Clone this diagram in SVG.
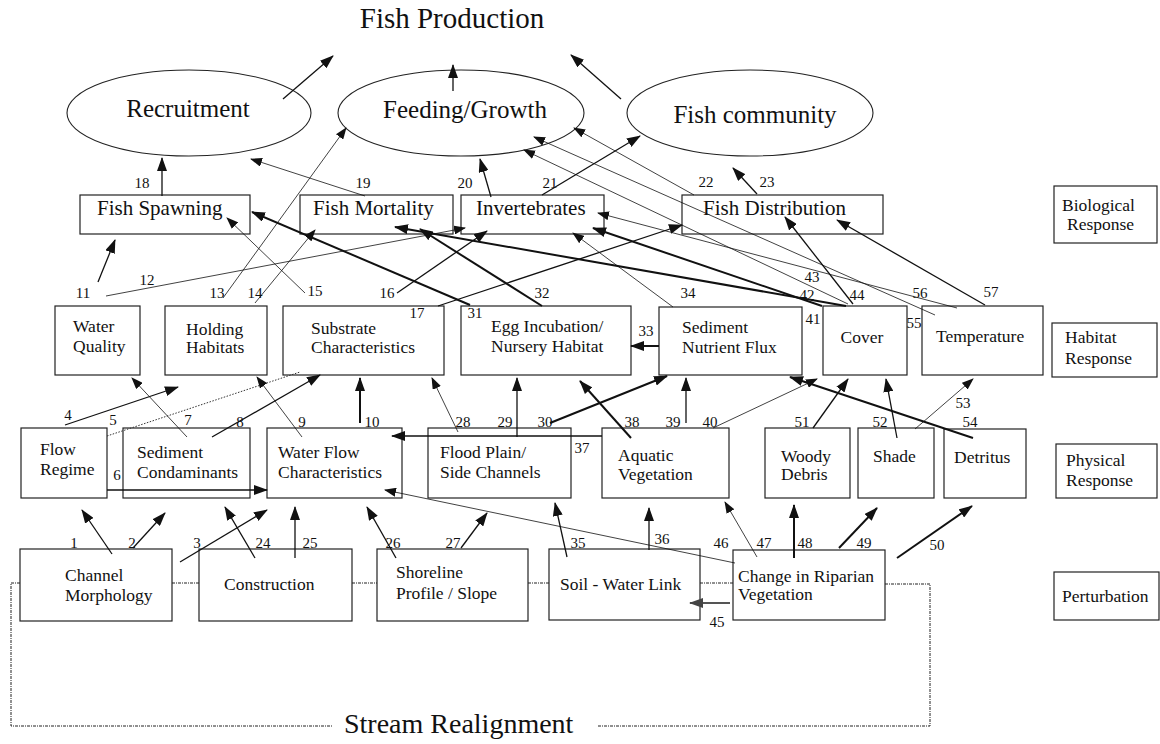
<svg xmlns="http://www.w3.org/2000/svg" width="1160" height="744" viewBox="0 0 1160 744">
  <style>
    text { font-family: "Liberation Serif", "Times New Roman", serif; fill: #111; }
    .box { fill: #fff; stroke: #222; stroke-width: 1.2; }
    .oval { fill: #fff; stroke: #222; stroke-width: 1.1; }
    .bio { font-size: 21px; }
    .lbl { font-size: 17.5px; }
    .oval-t { font-size: 25px; text-anchor: middle; }
    .num { font-size: 15px; text-anchor: middle; }
    .t { stroke: #111; stroke-width: 0.8; fill: none; marker-end: url(#hs); }
    .m { stroke: #111; stroke-width: 1.3; fill: none; marker-end: url(#h); }
    .k { stroke: #111; stroke-width: 2; fill: none; marker-end: url(#h); }
    .g { stroke: #555; stroke-width: 2.2; fill: none; marker-end: url(#hg); }
    .dot { stroke: #222; stroke-width: 1; fill: none; stroke-dasharray: 3 1 1 1; }
    .dot2 { stroke: #333; stroke-width: 1; fill: none; stroke-dasharray: 1.5 1.5; }
  </style>
  <defs>
    <marker id="h" markerUnits="userSpaceOnUse" markerWidth="14" markerHeight="10" refX="13" refY="5" orient="auto">
      <path d="M0,0 L14,5 L0,10 z" fill="#111"/>
    </marker>
    <marker id="hs" markerUnits="userSpaceOnUse" markerWidth="12" markerHeight="9" refX="11" refY="4.5" orient="auto">
      <path d="M0,0 L12,4.5 L0,9 z" fill="#111"/>
    </marker>
    <marker id="hg" markerUnits="userSpaceOnUse" markerWidth="14" markerHeight="10" refX="13" refY="5" orient="auto">
      <path d="M0,0 L14,5 L0,10 z" fill="#444"/>
    </marker>
  </defs>
  <rect width="1160" height="744" fill="#fff"/>

  <!-- outcome -->
  <g id="fish-production"><text x="452" y="28" font-size="29" text-anchor="middle">Fish Production</text></g>
  <g id="recruitment"><ellipse class="oval" cx="189" cy="113" rx="122" ry="43"/><text class="oval-t" x="188" y="117">Recruitment</text></g>
  <g id="feeding-growth"><ellipse class="oval" cx="461" cy="113" rx="123" ry="43"/><text class="oval-t" x="465" y="118">Feeding/Growth</text></g>
  <g id="fish-community"><ellipse class="oval" cx="750" cy="113" rx="123" ry="43"/><text class="oval-t" x="755" y="123">Fish community</text></g>

  <!-- biological response -->
  <g id="fish-spawning"><rect class="box" x="80" y="195" width="170" height="39"/><text class="bio" x="97" y="215">Fish Spawning</text></g>
  <g id="fish-mortality"><rect class="box" x="300" y="195" width="153" height="39"/><text class="bio" x="313" y="215">Fish Mortality</text></g>
  <g id="invertebrates"><rect class="box" x="461" y="195" width="143" height="39"/><text class="bio" x="476" y="215">Invertebrates</text></g>
  <g id="fish-distribution"><rect class="box" x="682" y="195" width="201" height="39"/><text class="bio" x="703" y="215">Fish Distribution</text></g>
  <g id="biological-response"><rect class="box" x="1054" y="186" width="103" height="57"/><text class="lbl" x="1062" y="211">Biological</text><text class="lbl" x="1067" y="230">Response</text></g>

  <!-- habitat response -->
  <g id="water-quality"><rect class="box" x="55" y="306" width="85" height="69"/><text class="lbl" x="73" y="332">Water</text><text class="lbl" x="73" y="352">Quality</text></g>
  <g id="holding-habitats"><rect class="box" x="165" y="306" width="102" height="69"/><text class="lbl" x="186" y="335">Holding</text><text class="lbl" x="186" y="353">Habitats</text></g>
  <g id="substrate"><rect class="box" x="283" y="306" width="161" height="69"/><text class="lbl" x="311" y="334">Substrate</text><text class="lbl" x="311" y="353">Characteristics</text></g>
  <g id="egg-incubation"><rect class="box" x="461" y="306" width="170" height="69"/><text class="lbl" x="491" y="332">Egg Incubation/</text><text class="lbl" x="491" y="352">Nursery Habitat</text></g>
  <g id="sediment-nutrient-flux"><rect class="box" x="659" y="307" width="143" height="68"/><text class="lbl" x="682" y="333">Sediment</text><text class="lbl" x="682" y="353">Nutrient Flux</text></g>
  <g id="cover"><rect class="box" x="823" y="306" width="84" height="69"/><text class="lbl" x="862" y="343" text-anchor="middle">Cover</text></g>
  <g id="temperature"><rect class="box" x="922" y="306" width="121" height="69"/><text class="lbl" x="936" y="342">Temperature</text></g>
  <g id="habitat-response"><rect class="box" x="1052" y="323" width="105" height="54"/><text class="lbl" x="1065" y="343">Habitat</text><text class="lbl" x="1065" y="364">Response</text></g>

  <!-- physical response -->
  <g id="flow-regime"><rect class="box" x="21" y="428" width="86" height="70"/><text class="lbl" x="40" y="455">Flow</text><text class="lbl" x="40" y="475">Regime</text></g>
  <g id="sediment-contaminants"><rect class="box" x="123" y="428" width="127" height="70"/><text class="lbl" x="137" y="458">Sediment</text><text class="lbl" x="137" y="478">Condaminants</text></g>
  <g id="water-flow"><rect class="box" x="267" y="428" width="135" height="70"/><text class="lbl" x="278" y="458">Water Flow</text><text class="lbl" x="278" y="478">Characteristics</text></g>
  <g id="flood-plain"><rect class="box" x="428" y="428" width="143" height="70"/><text class="lbl" x="440" y="458">Flood Plain/</text><text class="lbl" x="440" y="478">Side Channels</text></g>
  <g id="aquatic-vegetation"><rect class="box" x="602" y="428" width="127" height="70"/><text class="lbl" x="618" y="461">Aquatic</text><text class="lbl" x="618" y="480">Vegetation</text></g>
  <g id="woody-debris"><rect class="box" x="765" y="428" width="85" height="70"/><text class="lbl" x="781" y="462">Woody</text><text class="lbl" x="781" y="480">Debris</text></g>
  <g id="shade"><rect class="box" x="858" y="428" width="76" height="70"/><text class="lbl" x="873" y="462">Shade</text></g>
  <g id="detritus"><rect class="box" x="944" y="429" width="82" height="69"/><text class="lbl" x="954" y="463">Detritus</text></g>
  <g id="physical-response"><rect class="box" x="1056" y="444" width="101" height="54"/><text class="lbl" x="1066" y="466">Physical</text><text class="lbl" x="1066" y="486">Response</text></g>

  <!-- perturbation -->
  <g id="channel-morphology"><rect class="box" x="20" y="549" width="152" height="72"/><text class="lbl" x="65" y="581">Channel</text><text class="lbl" x="65" y="601">Morphology</text></g>
  <g id="construction"><rect class="box" x="199" y="549" width="153" height="72"/><text class="lbl" x="224" y="590">Construction</text></g>
  <g id="shoreline"><rect class="box" x="377" y="549" width="151" height="72"/><text class="lbl" x="396" y="578">Shoreline</text><text class="lbl" x="396" y="599">Profile / Slope</text></g>
  <g id="soil-water-link"><rect class="box" x="549" y="549" width="151" height="71"/><text class="lbl" x="560" y="590">Soil - Water Link</text></g>
  <g id="riparian-change"><rect class="box" x="733" y="550" width="152" height="70"/><text class="lbl" x="738" y="582">Change in Riparian</text><text class="lbl" x="738" y="600">Vegetation</text></g>
  <g id="perturbation"><rect class="box" x="1054" y="572" width="105" height="48"/><text class="lbl" x="1062" y="602">Perturbation</text></g>
  <g id="stream-realignment"><text x="344" y="733" font-size="28">Stream Realignment</text></g>

  <g id="connectors">
    <!-- dotted links between perturbations and the realignment loop -->
    <path class="dot" d="M172,583 H199 M352,583 H377 M528,583 H549 M700,583 H733"/>
    <path class="dot" d="M20,583 H11 V726 H333 M598,726 H930 V584 H885"/>
    <line class="dot2" x1="107" y1="436" x2="300" y2="372"/>

    <!-- into fish production -->
    <line class="m" x1="283" y1="99" x2="333" y2="56"/>
    <line class="m" x1="453" y1="91" x2="453" y2="65"/>
    <line class="m" x1="621" y1="99" x2="571" y2="55"/>

    <!-- biological to outcomes -->
    <line class="m" x1="162" y1="196" x2="162" y2="158"/>
    <line class="t" x1="365" y1="196" x2="251" y2="159"/>
    <line class="m" x1="491" y1="197" x2="480" y2="159"/>
    <line class="m" x1="542" y1="195" x2="640" y2="136"/>
    <line class="t" x1="694" y1="195" x2="574" y2="128"/>
    <line class="m" x1="757" y1="194" x2="733" y2="168"/>

    <!-- habitat to biological / outcomes -->
    <line class="m" x1="98" y1="282" x2="115" y2="240"/>
    <line class="t" x1="106" y1="296" x2="465" y2="228"/>
    <line class="t" x1="223" y1="298" x2="346" y2="128"/>
    <line class="t" x1="255" y1="303" x2="315" y2="230"/>
    <line class="t" x1="305" y1="293" x2="227" y2="218"/>
    <line class="m" x1="397" y1="293" x2="487" y2="231"/>
    <line class="m" x1="438" y1="306" x2="682" y2="225"/>
    <line class="k" x1="470" y1="305" x2="252" y2="212"/>
    <line class="k" x1="542" y1="306" x2="420" y2="229"/>
    <line class="k" x1="659" y1="346" x2="631" y2="346"/>
    <line class="t" x1="673" y1="307" x2="573" y2="233"/>
    <line class="k" x1="822" y1="306" x2="593" y2="228"/>
    <line class="k" x1="846" y1="306" x2="395" y2="227"/>
    <line class="t" x1="848" y1="304" x2="524" y2="150"/>
    <line class="m" x1="853" y1="304" x2="785" y2="217"/>
    <line class="t" x1="935" y1="315" x2="534" y2="137"/>
    <line class="t" x1="957" y1="308" x2="598" y2="213"/>
    <line class="m" x1="985" y1="305" x2="837" y2="220"/>

    <!-- physical to habitat -->
    <line class="m" x1="65" y1="425" x2="178" y2="387"/>
    <line class="m" x1="107" y1="490" x2="267" y2="490"/>
    <line class="t" x1="187" y1="437" x2="132" y2="378"/>
    <line class="m" x1="212" y1="437" x2="320" y2="375"/>
    <line class="t" x1="302" y1="437" x2="257" y2="377"/>
    <line class="k" x1="360" y1="423" x2="360" y2="378"/>
    <line class="t" x1="458" y1="432" x2="432" y2="378"/>
    <line class="m" x1="517" y1="437" x2="517" y2="378"/>
    <line class="k" x1="550" y1="423" x2="667" y2="376"/>
    <line class="m" x1="602" y1="436" x2="392" y2="436"/>
    <line class="k" x1="631" y1="438" x2="580" y2="381"/>
    <line class="m" x1="686" y1="423" x2="686" y2="378"/>
    <line class="t" x1="713" y1="428" x2="817" y2="379"/>
    <line class="m" x1="813" y1="428" x2="848" y2="379"/>
    <line class="m" x1="897" y1="438" x2="886" y2="379"/>
    <line class="t" x1="915" y1="429" x2="973" y2="379"/>
    <line class="k" x1="973" y1="438" x2="790" y2="377"/>

    <!-- perturbation to physical -->
    <line class="m" x1="112" y1="554" x2="82" y2="510"/>
    <line class="m" x1="133" y1="548" x2="165" y2="513"/>
    <line class="m" x1="180" y1="562" x2="267" y2="510"/>
    <line class="m" x1="255" y1="558" x2="225" y2="507"/>
    <line class="m" x1="295" y1="558" x2="295" y2="507"/>
    <line class="m" x1="396" y1="558" x2="367" y2="507"/>
    <line class="m" x1="461" y1="548" x2="487" y2="513"/>
    <line class="m" x1="567" y1="557" x2="555" y2="503"/>
    <line class="m" x1="649" y1="550" x2="649" y2="508"/>
    <line class="t" x1="735" y1="563" x2="385" y2="490"/>
    <line class="t" x1="757" y1="557" x2="725" y2="502"/>
    <line class="k" x1="794" y1="558" x2="794" y2="505"/>
    <line class="k" x1="839" y1="548" x2="877" y2="508"/>
    <line class="k" x1="897" y1="558" x2="972" y2="506"/>
    <line class="g" x1="730" y1="603" x2="690" y2="603"/>
  </g>

  <g id="link-numbers">
    <text class="num" x="142" y="188">18</text>
    <text class="num" x="363" y="188">19</text>
    <text class="num" x="465" y="188">20</text>
    <text class="num" x="550" y="188">21</text>
    <text class="num" x="706" y="187">22</text>
    <text class="num" x="767" y="187">23</text>
    <text class="num" x="83" y="298">11</text>
    <text class="num" x="147" y="285">12</text>
    <text class="num" x="217" y="298">13</text>
    <text class="num" x="255" y="298">14</text>
    <text class="num" x="315" y="296">15</text>
    <text class="num" x="387" y="298">16</text>
    <text class="num" x="417" y="318">17</text>
    <text class="num" x="475" y="318">31</text>
    <text class="num" x="542" y="298">32</text>
    <text class="num" x="646" y="336">33</text>
    <text class="num" x="688" y="298">34</text>
    <text class="num" x="813" y="324">41</text>
    <text class="num" x="807" y="300">42</text>
    <text class="num" x="812" y="282">43</text>
    <text class="num" x="857" y="300">44</text>
    <text class="num" x="914" y="328">55</text>
    <text class="num" x="920" y="298">56</text>
    <text class="num" x="991" y="297">57</text>
    <text class="num" x="68" y="420">4</text>
    <text class="num" x="113" y="425">5</text>
    <text class="num" x="117" y="480">6</text>
    <text class="num" x="188" y="425">7</text>
    <text class="num" x="240" y="427">8</text>
    <text class="num" x="302" y="427">9</text>
    <text class="num" x="372" y="427">10</text>
    <text class="num" x="463" y="427">28</text>
    <text class="num" x="505" y="427">29</text>
    <text class="num" x="545" y="427">30</text>
    <text class="num" x="582" y="453">37</text>
    <text class="num" x="632" y="427">38</text>
    <text class="num" x="673" y="427">39</text>
    <text class="num" x="710" y="427">40</text>
    <text class="num" x="802" y="427">51</text>
    <text class="num" x="880" y="427">52</text>
    <text class="num" x="963" y="408">53</text>
    <text class="num" x="970" y="427">54</text>
    <text class="num" x="74" y="548">1</text>
    <text class="num" x="132" y="548">2</text>
    <text class="num" x="197" y="548">3</text>
    <text class="num" x="263" y="548">24</text>
    <text class="num" x="310" y="548">25</text>
    <text class="num" x="393" y="548">26</text>
    <text class="num" x="453" y="548">27</text>
    <text class="num" x="578" y="548">35</text>
    <text class="num" x="662" y="544">36</text>
    <text class="num" x="721" y="548">46</text>
    <text class="num" x="764" y="548">47</text>
    <text class="num" x="805" y="548">48</text>
    <text class="num" x="864" y="548">49</text>
    <text class="num" x="937" y="550">50</text>
    <text class="num" x="717" y="627">45</text>
  </g>
</svg>
